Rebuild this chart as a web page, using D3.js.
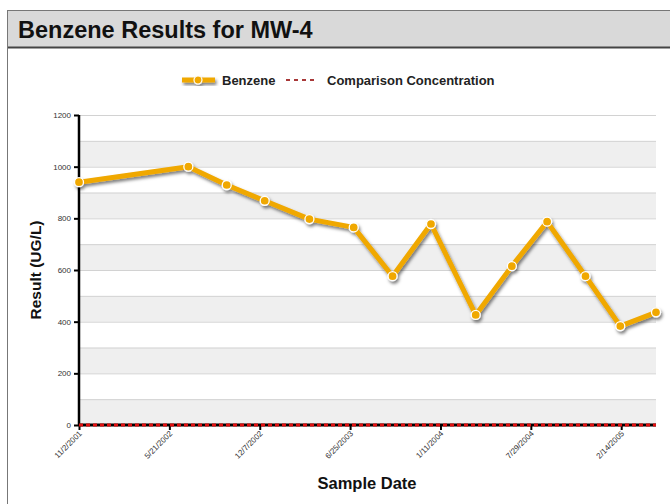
<!DOCTYPE html>
<html>
<head>
<meta charset="utf-8">
<script src="https://cdn.jsdelivr.net/npm/d3@7"></script>
<style>
  body { margin: 0; background: #fff; }
  svg { display: block; font-family: "Liberation Sans", Arial, sans-serif; }
</style>
</head>
<body>
<div id="chart"></div>
<script>
// Benzene results for MW-4

const sampleDates = ["11/2/2001", "7/2/2002", "9/25/2002", "12/18/2002", "3/27/2003", "7/3/2003",
    "9/27/2003", "12/21/2003", "3/29/2004", "6/17/2004", "9/3/2004", "11/27/2004", "2/12/2005", "5/2/2005"];
const benzene = [940, 1000, 929, 868, 797, 765, 576, 778, 426, 615, 787, 576, 383, 436];
const comparison = 0;
const xTickLabels = ["11/2/2001", "5/21/2002", "12/7/2002", "6/25/2003", "1/11/2004", "7/29/2004", "2/14/2005"];
const yTicks = [0, 200, 400, 600, 800, 1000, 1200];

const parseDate = d3.timeParse("%m/%d/%Y");
const data = sampleDates.map((d, i) => ({ date: parseDate(d), value: benzene[i] }));

const W = 670, H = 504;
const margin = { top: 115, right: 14, bottom: 79, left: 79 },
      width = W - margin.left - margin.right,
      height = H - margin.top - margin.bottom;

const svg = d3.select("#chart").append("svg")
    .attr("width", W)
    .attr("height", H);

const defs = svg.append("defs");
const shadow = defs.append("filter").attr("id", "shadow")
    .attr("x", "-10%").attr("y", "-10%").attr("width", "120%").attr("height", "130%");
shadow.append("feDropShadow")
    .attr("dx", 1.5).attr("dy", 2.5).attr("stdDeviation", 1.4)
    .attr("flood-color", "#000").attr("flood-opacity", 0.5);

// frame + title bar
svg.append("rect")
    .attr("x", 7.5).attr("y", 10.5)
    .attr("width", W).attr("height", H)
    .attr("fill", "#fff").attr("stroke", "#777");
svg.append("rect")
    .attr("x", 8).attr("y", 11)
    .attr("width", W).attr("height", 36)
    .attr("fill", "#d9d9d9");
svg.append("line")
    .attr("x1", 8).attr("x2", W).attr("y1", 47.5).attr("y2", 47.5)
    .attr("stroke", "#444").attr("stroke-width", 2);
svg.append("text")
    .attr("x", 18).attr("y", 38)
    .style("font-size", "23.5px")
    .style("font-weight", "bold")
    .style("fill", "#111")
    .text("Benzene Results for MW-4");

const g = svg.append("g")
    .attr("transform", `translate(${margin.left},${margin.top})`);

const x = d3.scaleTime()
    .domain(d3.extent(data, d => d.date))
    .range([0, width]);

const y = d3.scaleLinear()
    .domain([0, 1200])
    .range([height, 0]);

// alternating bands every 100
const bandStarts = d3.range(0, 1200, 100);
g.selectAll("rect.band")
    .data(bandStarts)
    .join("rect")
    .attr("class", "band")
    .attr("x", 0)
    .attr("width", width)
    .attr("y", d => y(d + 100))
    .attr("height", d => y(d) - y(d + 100))
    .attr("fill", d => (d / 100) % 2 === 0 ? "#efefef" : "#fff");

g.selectAll("line.grid")
    .data(d3.range(100, 1300, 100))
    .join("line")
    .attr("class", "grid")
    .attr("x1", 0).attr("x2", width)
    .attr("y1", d => y(d) + 0.5).attr("y2", d => y(d) + 0.5)
    .attr("stroke", "#d2d2d2")
    .attr("stroke-width", 1);

// y axis
const yAxis = d3.axisLeft(y)
    .tickValues(yTicks)
    .tickFormat(d3.format("d"))
    .tickSize(5)
    .tickPadding(3);
const yAxisGroup = g.append("g").call(yAxis);
yAxisGroup.select(".domain").remove();
yAxisGroup.selectAll(".tick line").attr("stroke", "#000").attr("stroke-width", 2);
yAxisGroup.selectAll("text")
    .style("font-size", "8px")
    .style("fill", "#333");
g.append("line")
    .attr("x1", 0).attr("x2", 0)
    .attr("y1", 0).attr("y2", height)
    .attr("stroke", "#000").attr("stroke-width", 2.5);

// x axis
const xTickDates = xTickLabels.map(parseDate);
const xAxis = d3.axisBottom(x)
    .tickValues(xTickDates)
    .tickFormat(d3.timeFormat("%-m/%-d/%Y"))
    .tickSize(5);
const xAxisGroup = g.append("g")
    .attr("transform", `translate(0,${height})`)
    .call(xAxis);
xAxisGroup.select(".domain").remove();
xAxisGroup.selectAll(".tick line").attr("stroke", "#000").attr("stroke-width", 2);
xAxisGroup.selectAll("text")
    .attr("y", 0)
    .attr("dy", 0)
    .attr("transform", "translate(3,9) rotate(-45)")
    .style("text-anchor", "end")
    .style("font-size", "8px")
    .style("fill", "#333");
g.append("line")
    .attr("x1", 0).attr("x2", width)
    .attr("y1", height).attr("y2", height)
    .attr("stroke", "#000").attr("stroke-width", 3);

// comparison concentration
g.append("line")
    .attr("x1", 0).attr("x2", width)
    .attr("y1", y(comparison)).attr("y2", y(comparison))
    .attr("stroke", "#e01010")
    .attr("stroke-width", 3)
    .attr("stroke-dasharray", "4,3");

// benzene line
const line = d3.line()
    .x(d => x(d.date))
    .y(d => y(d.value));

const series = g.append("g").attr("filter", "url(#shadow)");
series.append("path")
    .datum(data)
    .attr("d", line)
    .attr("fill", "none")
    .attr("stroke", "#f0a800")
    .attr("stroke-width", 5)
    .attr("stroke-linejoin", "round");
series.selectAll("circle")
    .data(data)
    .join("circle")
    .attr("cx", d => x(d.date))
    .attr("cy", d => y(d.value))
    .attr("r", 4.5)
    .attr("fill", "#f0a800")
    .attr("stroke", "#fff")
    .attr("stroke-width", 1.3);

// axis titles
svg.append("text")
    .attr("transform", `translate(41,${margin.top + height / 2}) rotate(-90)`)
    .attr("text-anchor", "middle")
    .style("font-size", "15.5px")
    .style("font-weight", "bold")
    .style("fill", "#111")
    .text("Result (UG/L)");

svg.append("text")
    .attr("x", 367)
    .attr("y", 489)
    .attr("text-anchor", "middle")
    .style("font-size", "16.5px")
    .style("font-weight", "bold")
    .style("fill", "#111")
    .text("Sample Date");

// legend
const legend = svg.append("g").attr("transform", "translate(0,80)");
const lgSeries = legend.append("g").attr("filter", "url(#shadow)");
lgSeries.append("line")
    .attr("x1", 182).attr("x2", 215)
    .attr("y1", 0).attr("y2", 0)
    .attr("stroke", "#f0a800").attr("stroke-width", 5);
lgSeries.append("circle")
    .attr("cx", 198).attr("cy", 0).attr("r", 4)
    .attr("fill", "#f0a800").attr("stroke", "#fff").attr("stroke-width", 1.2);
legend.append("text")
    .attr("x", 222).attr("y", 4.5)
    .style("font-size", "13px").style("font-weight", "bold").style("fill", "#222")
    .text("Benzene");
legend.append("line")
    .attr("x1", 286).attr("x2", 318)
    .attr("y1", 0).attr("y2", 0)
    .attr("stroke", "#a83838").attr("stroke-width", 2)
    .attr("stroke-dasharray", "4,4");
legend.append("text")
    .attr("x", 327).attr("y", 4.5)
    .style("font-size", "13px").style("font-weight", "bold").style("fill", "#222")
    .text("Comparison Concentration");
</script>
</body>
</html>
